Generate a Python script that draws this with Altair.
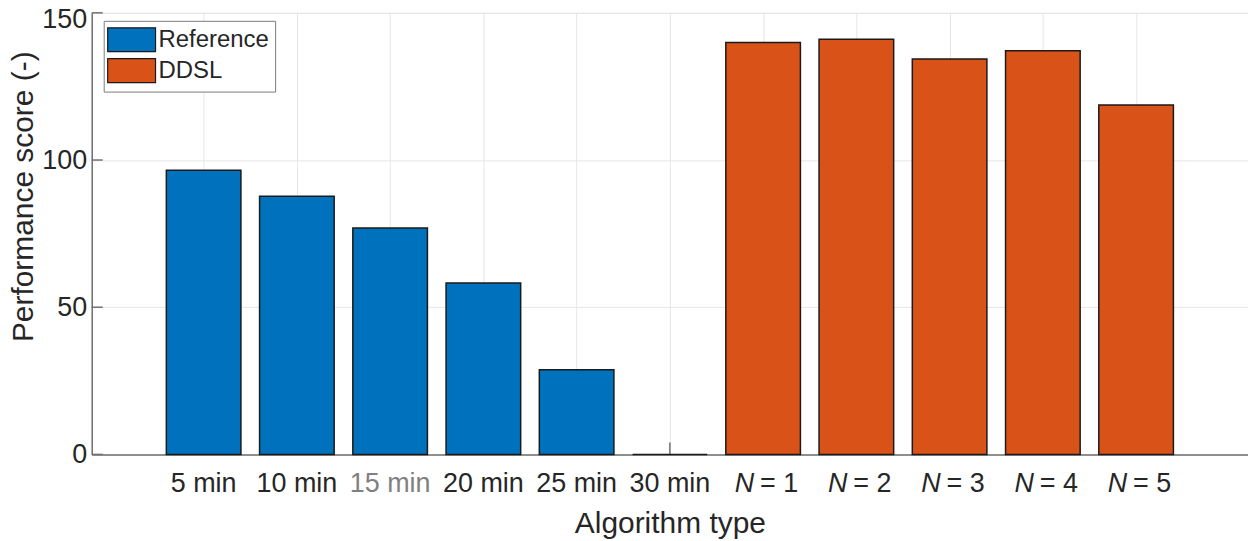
import altair as alt
import pandas as pd

# ---- data ----
ref_labels = ["5 min", "10 min", "15 min", "20 min", "25 min", "30 min"]
ref_values = [96.5, 87.7, 76.9, 58.2, 28.8, 0.0]
ddsl_n = [1, 2, 3, 4, 5]
ddsl_values = [139.9, 141.0, 134.3, 137.1, 118.7]
y_ticks = [0, 50, 100, 150]
groups = ["Reference", "DDSL"]
colors = ["#0072BD", "#D95319"]

rows = []
for i, (lab, v) in enumerate(zip(ref_labels, ref_values)):
    rows.append({"idx": i, "value": v, "group": "Reference", "label": lab})
for j, (n, v) in enumerate(zip(ddsl_n, ddsl_values)):
    rows.append({"idx": len(ref_labels) + j, "value": v, "group": "DDSL", "label": f"= {n}"})
df = pd.DataFrame(rows)
ticks_df = pd.DataFrame({"value": y_ticks})

F = "Liberation Sans"
DARK = "#262626"
AXC = "#707070"
GRID = "#e6e6e6"
W, H = 1160, 443
LABEL_Y = 481

xscale = alt.Scale(domain=[-1.2, 11.2], nice=False, zero=False)
yscale = alt.Scale(domain=[0, 150], nice=False, zero=True)

xaxis = alt.Axis(
    values=list(range(11)), labels=False, ticks=False, grid=True, gridColor=GRID,
    domainColor=AXC, domainWidth=1.5, title="Algorithm type", titleFont=F,
    titleFontSize=30, titleFontWeight="normal", titleColor=DARK, titleY=78,
    titleBaseline="alphabetic",
)
yaxis = alt.Axis(
    values=y_ticks, grid=True, gridColor=GRID, ticks=False, domainColor=AXC,
    domainWidth=1.5, labelFont=F, labelFontSize=27, labelColor=DARK, labelPadding=5,
    labelOffset={"expr": "datum.value == 150 ? 7 : 0"},
    title="Performance score (-)", titleFont=F, titleFontSize=30,
    titleFontWeight="normal", titleColor=DARK, titleX=-59, titleY=184,
    titleAngle=270, titleAlign="center", titleBaseline="alphabetic",
)

def X(field):
    return alt.X(field, type="quantitative", scale=xscale, axis=xaxis, title="Algorithm type")

base = alt.Chart(df)

# inward ticks (drawn under bars)
xticks = base.mark_rule(color=AXC, strokeWidth=1.5).encode(
    x=X("idx"), y=alt.value(H), y2=alt.value(H - 12)
)
yticks = alt.Chart(ticks_df).mark_rule(color=AXC, strokeWidth=1.5).encode(
    y=alt.Y("value:Q", scale=yscale, axis=yaxis, title="Performance score (-)"),
    x=alt.value(0), x2=alt.value(11),
)

bars = base.transform_calculate(
    x0="datum.idx - 0.4", x1="datum.idx + 0.4", base0="0"
).mark_bar(stroke="#1a1a1a", strokeWidth=1.5).encode(
    x=X("x0"),
    x2="x1:Q",
    y=alt.Y("value:Q", scale=yscale, axis=yaxis, title="Performance score (-)"),
    y2="base0:Q",
    color=alt.Color(
        "group:N",
        scale=alt.Scale(domain=groups, range=colors),
        legend=alt.Legend(
            title=None, orient="none", legendX=12, legendY=8,
            fillColor="white", strokeColor="#7a7a7a", padding=6, rowPadding=1,
            labelFont=F, labelFontSize=24, labelColor=DARK, labelOffset=14,
            symbolType="M-2,-1H2V1H-2Z", symbolSize=576, symbolOffset=9,
            symbolStrokeColor="#1a1a1a", symbolStrokeWidth=1.2, symbolOpacity=1,
        ),
    ),
)

min_labels = base.transform_filter(alt.datum.group == "Reference").mark_text(
    font=F, fontSize=27, baseline="alphabetic", align="center"
).encode(
    x=X("idx"), y=alt.value(LABEL_Y), text="label:N",
    color=alt.condition(alt.datum.label == "15 min", alt.value("#808080"), alt.value(DARK)),
)
n_italic = base.transform_filter(alt.datum.group == "DDSL").mark_text(
    font=F, fontSize=27, baseline="alphabetic", align="right", fontStyle="italic",
    text="N", dx=-9, color=DARK,
).encode(x=X("idx"), y=alt.value(LABEL_Y))
n_rest = base.transform_filter(alt.datum.group == "DDSL").mark_text(
    font=F, fontSize=27, baseline="alphabetic", align="left", dx=-3, color=DARK,
).encode(x=X("idx"), y=alt.value(LABEL_Y), text="label:N")

chart = alt.layer(xticks, yticks, bars, min_labels, n_italic, n_rest).properties(
    width=W, height=H,
    autosize=alt.AutoSizeParams(type="none"),
    padding={"left": 84, "top": 4, "right": 0, "bottom": 84},
).configure_view(stroke=None).configure(background="white")

chart.save("out.html", embed_options={"renderer": "svg", "actions": False})
